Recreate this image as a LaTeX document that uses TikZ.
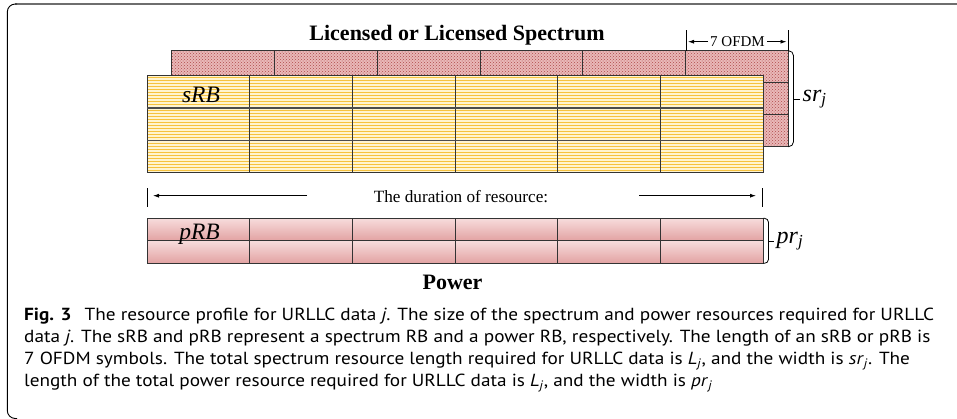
\documentclass[tikz,border=0pt]{standalone}
\usepackage{fontspec}
\setmainfont{Liberation Serif}
\newfontfamily\capfont{PT Sans}[FakeStretch=1.10]
\usetikzlibrary{patterns,arrows.meta}
\definecolor{hatchred}{HTML}{B04A4A}
\definecolor{hatchbg}{HTML}{E9B8B8}
\definecolor{stripey}{HTML}{F6C23E}
\definecolor{stripebg}{HTML}{FFF4D0}
\definecolor{pinktop}{HTML}{F7DCDC}
\definecolor{pinkbot}{HTML}{E2A2A2}
\definecolor{gridline}{HTML}{333333}
\definecolor{framegray}{HTML}{6E6E6E}
\begin{document}
\begin{tikzpicture}[x=1pt,y=-1pt,
  gridln/.style={draw=gridline, line width=0.9pt},
  dimarrow/.style={-{Latex[length=6pt,width=4pt]}, line width=0.8pt},
  tickln/.style={draw=black, line width=0.8pt},
  bracketln/.style={draw=black, line width=0.8pt, rounded corners=5pt},
  titlefont/.style={font=\bfseries\fontsize{22}{22}\selectfont},
  rblabel/.style={font=\itshape\fontsize{23.5}{23.5}\selectfont, inner sep=0pt, anchor=base},
  caption/.style={font=\capfont\fontsize{17.5}{17.5}\selectfont, inner sep=0pt, anchor=base west},
]
\useasboundingbox (0,0) rectangle (957,418);
% frame
\draw[framegray, line width=1.6pt] (15,4) -- (957,4);
\draw[black, line width=0.9pt, rounded corners=8pt] (17,4) -- (7.3,4) -- (7.3,418.5) -- (17,418.5);

% back (red, hatched) block
\fill[hatchbg] (171.7,50.7) rectangle (788.3,146.7);
\fill[pattern=crosshatch dots, pattern color=hatchred] (171.7,50.7) rectangle (788.3,146.7);
\draw[gridln] (171.7,50.7) rectangle (788.3,146.7);
\foreach \k in {1,...,5} \draw[gridln] ({171.7+\k*102.77},50.7) -- ({171.7+\k*102.77},75.7);
\foreach \yy in {82.7,114.7} \draw[gridln] (171.7,\yy) -- (788.3,\yy);

% front (yellow, striped) block
\fill[stripebg] (147,75.7) rectangle (763.3,172.7);
\foreach \yy in {77.4,80.4,...,172} \draw[stripey, line width=1.5pt] (147,\yy) -- (763.3,\yy);
\draw[gridln] (147,75.7) rectangle (763.3,172.7);
\foreach \k in {1,...,5} \draw[gridln] ({147+\k*102.72},75.7) -- ({147+\k*102.72},172.7);
\foreach \yy in {108,140.3} \draw[gridln, line width=1.3pt, draw=gray!60!black] (147,\yy) -- (763.3,\yy);

% power block
\shade[top color=pinktop, bottom color=pinkbot] (147,218.3) rectangle (763.3,240.8);
\shade[top color=pinktop, bottom color=pinkbot] (147,240.8) rectangle (763.3,263.3);
\draw[gridln] (147,218.3) rectangle (763.3,263.3);
\draw[gridln] (147,240.8) -- (763.3,240.8);
\foreach \k in {1,...,5} \draw[gridln] ({147+\k*102.72},218.3) -- ({147+\k*102.72},263.3);

% labels
\node[titlefont, anchor=base, inner sep=0pt] (title) at (457,40) {Licensed or Licensed Spectrum};
\node[rblabel] (srb) at (201,102.7) {sRB};
\node[rblabel] (prb) at (199.5,239.3) {pRB};
\node[titlefont, anchor=base, inner sep=0pt] (power) at (452.5,289.3) {Power};

% 7 OFDM dimension
\coordinate (oL1) at (686,30);
\coordinate (oL2) at (686,50.7);
\coordinate (oR1) at (788.3,30);
\coordinate (oR2) at (788.3,50.7);
\draw[tickln] (oL1) -- (oL2);
\draw[tickln] (oR1) -- (oR2);
\node[font=\fontsize{15}{15}\selectfont, anchor=base, inner sep=2pt] (ofdm) at (737.5,46.5) {7 OFDM};
\coordinate (oA) at (688,41.7);
\coordinate (oB) at (786.5,41.7);
\draw[dimarrow] (ofdm.west |- oA) -- (oA);
\draw[dimarrow] (ofdm.east |- oB) -- (oB);

% sr_j bracket
\coordinate (s1) at (788.3,50.7);
\coordinate (s2) at (788.3,146.7);
\draw[bracketln] (s1) -- (793.5,50.7) -- (793.5,146.7) -- (s2);
\coordinate (sT) at (793.5,99);
\draw[tickln] (sT) -- ++(6.5,0) coordinate (sT2);
\node[font=\fontsize{24}{24}\selectfont, anchor=west, inner sep=2.5pt] (srj) at (sT2) {\textit{sr}\textsubscript{\textit{j}}};

% pr_j bracket
\coordinate (p1) at (763.3,218.3);
\coordinate (p2) at (763.3,263.3);
\draw[bracketln, rounded corners=4pt] (p1) -- (768.5,218.3) -- (768.5,263.3) -- (p2);
\coordinate (pT) at (768.5,241);
\draw[tickln] (pT) -- ++(5.5,0) coordinate (pT2);
\node[font=\fontsize{24}{24}\selectfont, anchor=west, inner sep=2.5pt] (prj) at (pT2) {\textit{pr}\textsubscript{\textit{j}}};

% duration
\coordinate (d1) at (147.6,188.3);
\coordinate (d2) at (147.6,206.7);
\coordinate (d3) at (762.8,188.3);
\coordinate (d4) at (762.8,206.7);
\draw[tickln] (d1) -- (d2);
\draw[tickln] (d3) -- (d4);
\node[font=\fontsize{17.2}{17.2}\selectfont, anchor=base, inner sep=0pt] (dur) at (461,202.7) {The duration of resource:};
\coordinate (dA1) at (307,195.7);
\coordinate (dA2) at (153,195.7);
\coordinate (dB1) at (639,195.7);
\coordinate (dB2) at (756,195.7);
\draw[dimarrow] (dA1) -- (dA2);
\draw[dimarrow] (dB1) -- (dB2);

% caption
\node[caption] (cap1) at (24,320) {\textbf{Fig. 3}\hspace{0.45em} The resource profile for URLLC data \textit{j}. The size of the spectrum and power resources required for URLLC};
\node[caption] (cap2) at (24,342.3) {data \textit{j}. The sRB and pRB represent a spectrum RB and a power RB, respectively. The length of an sRB or pRB is};
\node[caption] (cap3) at (24,364.6) {7 OFDM symbols. The total spectrum resource length required for URLLC data is \textit{L}\textsubscript{\textit{j}}, and the width is \textit{sr}\textsubscript{\textit{j}}. The};
\node[caption] (cap4) at (24,386.9) {length of the total power resource required for URLLC data is \textit{L}\textsubscript{\textit{j}}, and the width is \textit{pr}\textsubscript{\textit{j}}};
\end{tikzpicture}
\end{document}
